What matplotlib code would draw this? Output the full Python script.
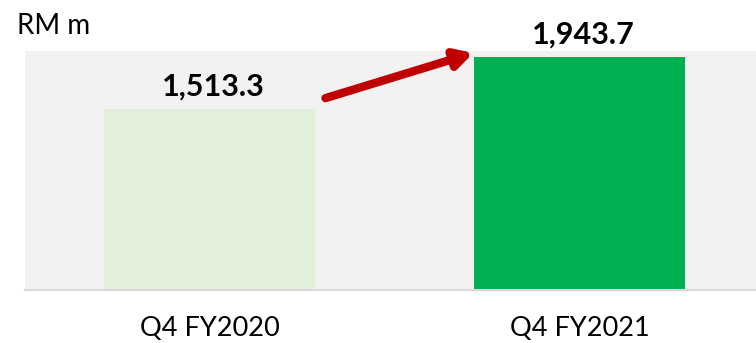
import matplotlib
matplotlib.use("Agg")
import matplotlib.pyplot as plt

# quarterly figures, RM million
quarters = ["Q4 FY2020", "Q4 FY2021"]
values = [1513.3, 1943.7]
bar_colors = ["#e2efda", "#00b050"]

plt.rcParams["font.family"] = ["Lato", "DejaVu Sans"]

fig = plt.figure(figsize=(7.56, 3.43), dpi=100)
ax = fig.add_axes([0.0331, 0.1545, 0.9669, 0.6968])
ax.set_facecolor("#f2f2f2")

x = range(len(quarters))
bars = ax.bar(x, values, width=0.571, color=bar_colors, zorder=2)

for rect, v in zip(bars, values):
    ax.text(rect.get_x() + rect.get_width() / 2 + 0.01, v + 70, f"{v:,.1f}",
            ha="center", va="bottom", fontsize=22, fontweight="bold")

# growth arrow between the two quarters
ax.annotate("", xy=(0.713, 1977), xytext=(0.313, 1600),
            arrowprops=dict(arrowstyle="-|>,head_length=1.0,head_width=0.55",
                            color="#c00000", lw=6, shrinkA=0, shrinkB=0),
            zorder=3, annotation_clip=False)

ax.set_xlim(-0.5, 1.478)
ax.set_ylim(0, 1993)
ax.set_xticks(list(x))
ax.set_xticklabels(quarters, fontsize=19.5)
ax.tick_params(axis="x", length=0, pad=19)
ax.set_yticks([])
for side in ["top", "left", "right"]:
    ax.spines[side].set_visible(False)
ax.spines["bottom"].set_color("#d9d9d9")
ax.spines["bottom"].set_linewidth(1.5)

fig.text(0.022, 0.925, "RM m", fontsize=20, ha="left", va="center")

fig.savefig("out.png", dpi=100)
